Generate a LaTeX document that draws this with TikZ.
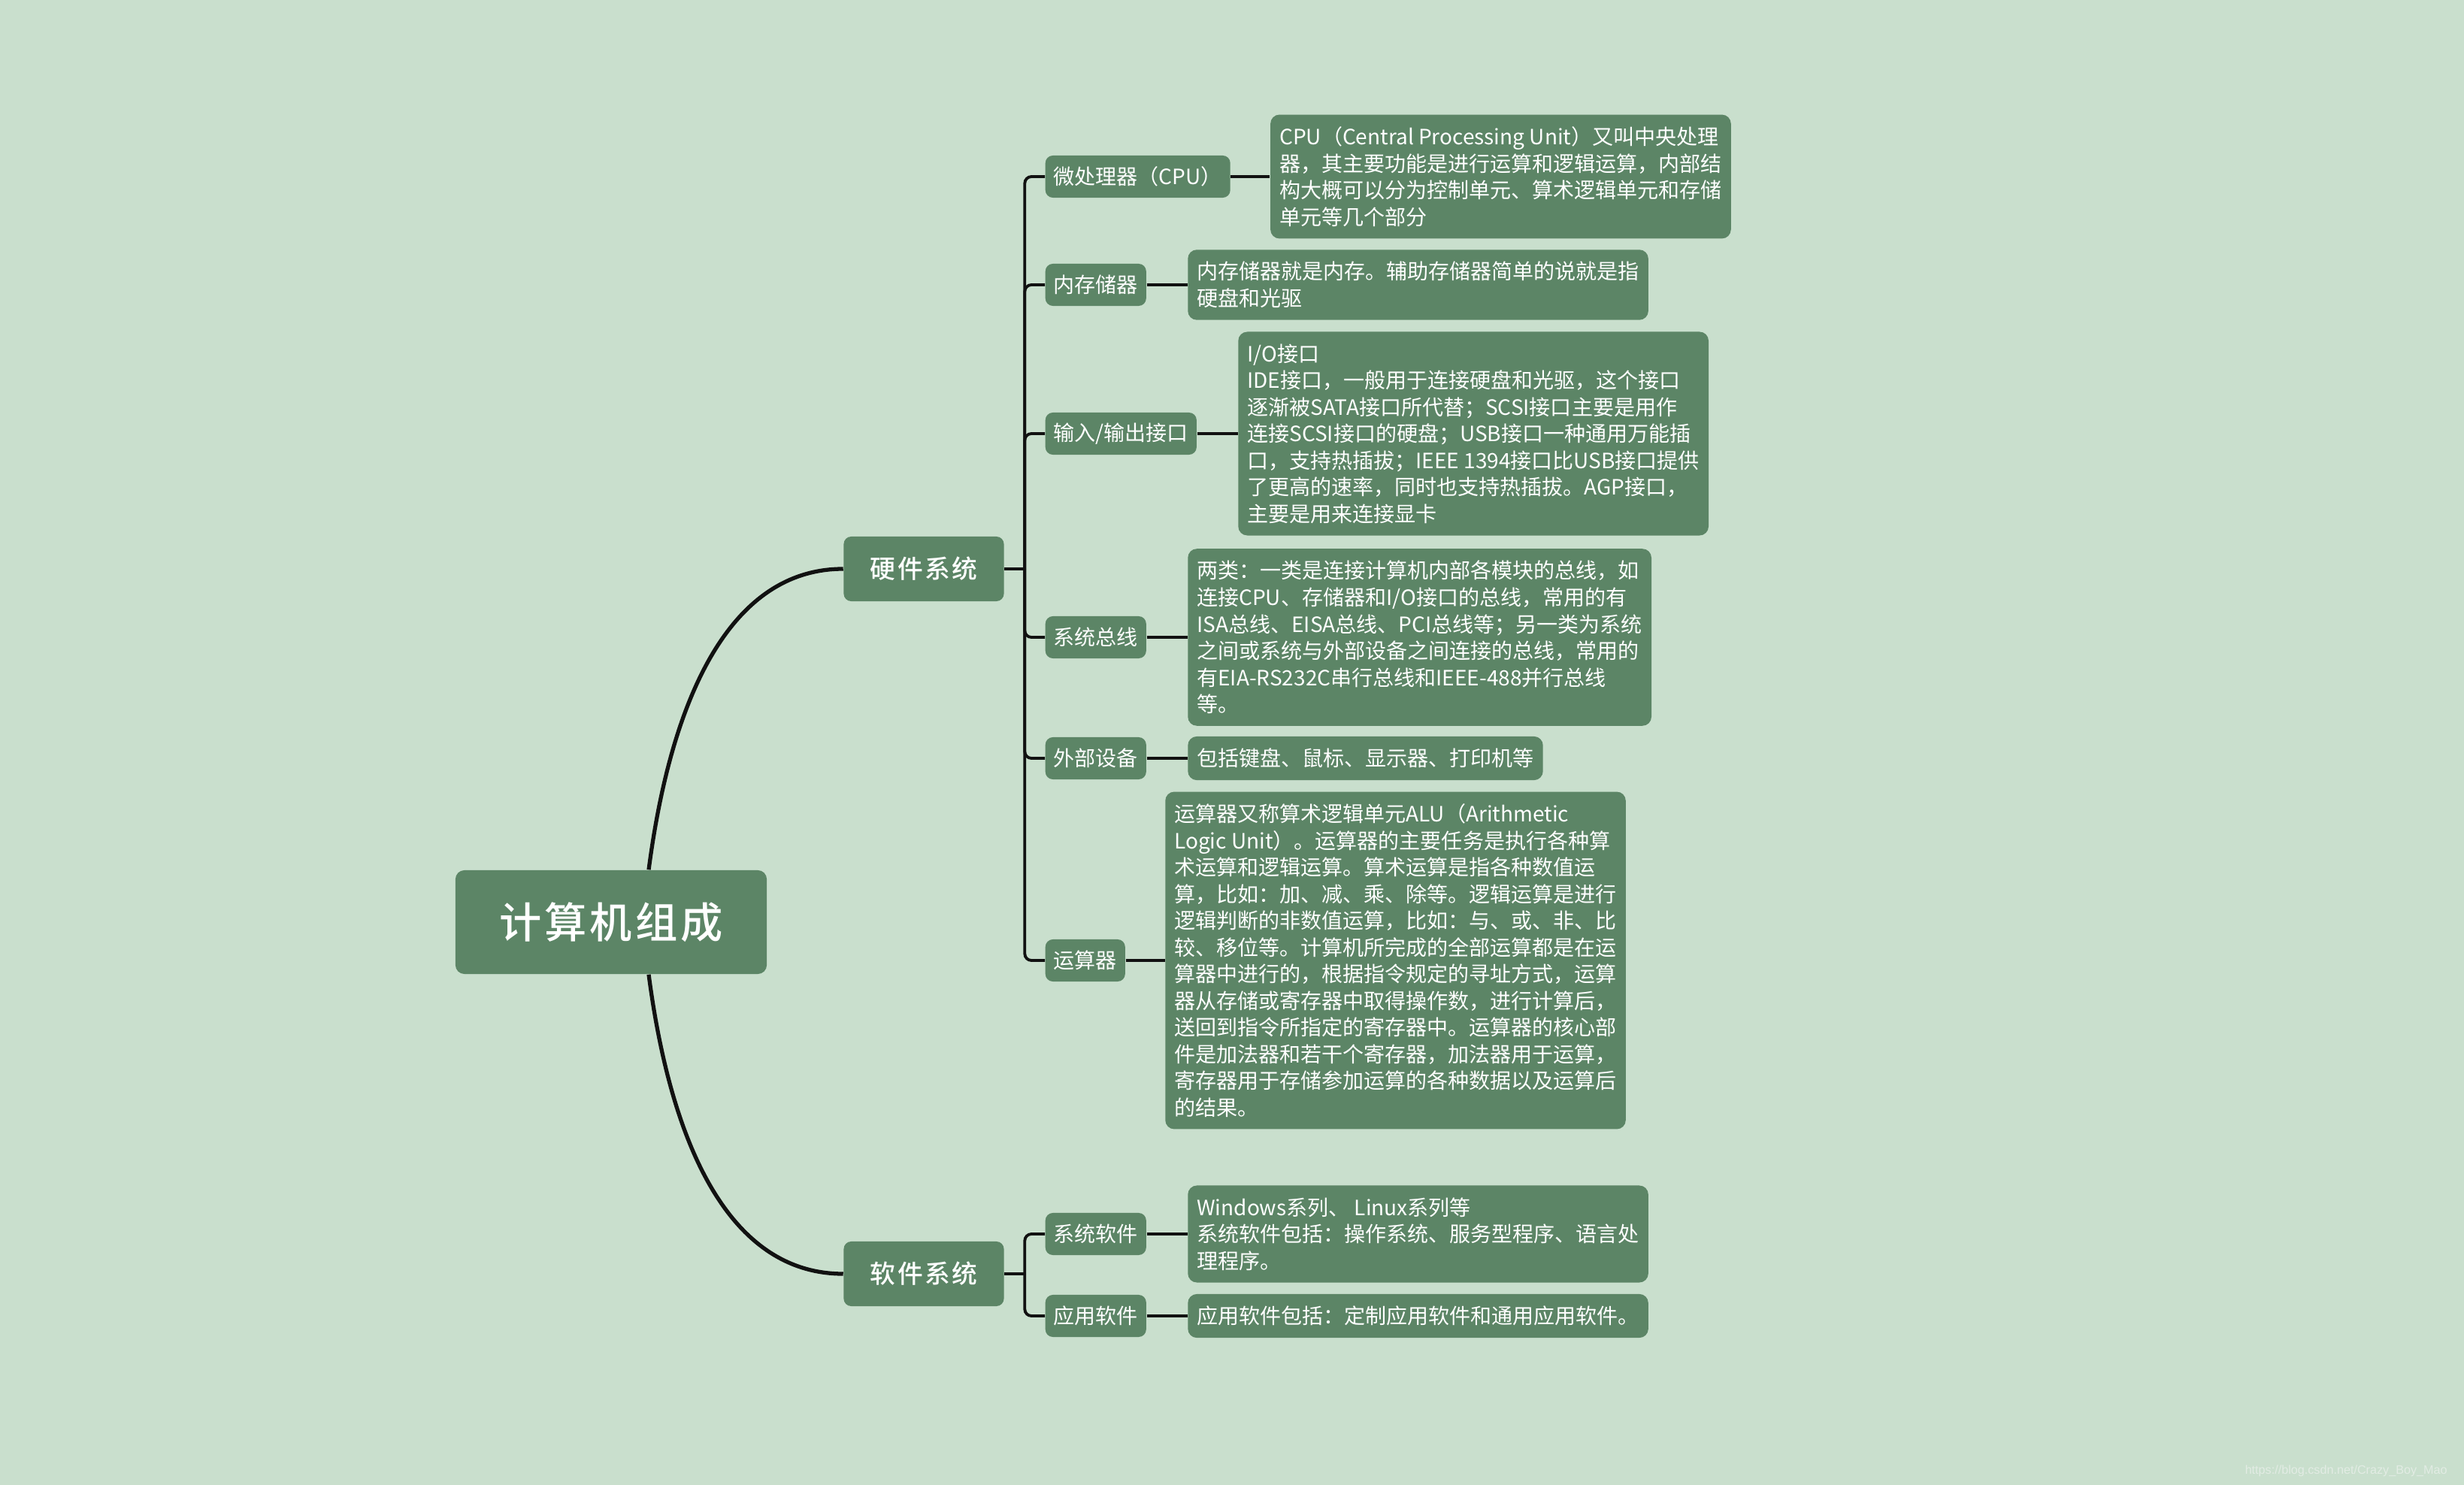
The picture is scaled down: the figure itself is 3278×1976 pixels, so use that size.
\documentclass[tikz,border=0pt]{standalone}
\usepackage{fontspec}
\setmainfont{Noto Sans CJK SC}
\newfontfamily\headfont{Noto Sans CJK SC Medium}[LetterSpace=7]
\newfontfamily\markfont{Liberation Sans}
\usetikzlibrary{positioning}

\tikzset{
  rootbox/.style={fill=boxcolor, rounded corners=0.12cm, text=white,
    font=\headfont\fontsize{16}{19}\selectfont, minimum width=4.14cm, minimum height=1.38cm},
  mainbox/.style={fill=boxcolor, rounded corners=0.1cm, text=white,
    font=\headfont\fontsize{9.6}{12}\selectfont, minimum width=2.13cm, minimum height=0.86cm},
  subbox/.style={fill=boxcolor, rounded corners=0.1cm, text=white, anchor=west,
    font=\fontsize{7.97}{10.1}\selectfont, minimum height=0.56cm, inner xsep=0.11cm, inner ysep=0pt},
  descbox/.style={fill=boxcolor, rounded corners=0.12cm, text=white, align=left,
    font=\fontsize{7.97}{10.1}\selectfont, inner xsep=0.12cm, inner ysep=0.16cm},
  mainline/.style={draw=linecolor, line width=1.5pt},
  branchline/.style={draw=linecolor, line width=1.1pt, rounded corners=0.09cm},
}

\begin{document}
\begin{tikzpicture}[x=0.01cm, y=-0.01cm]
    % Define the colors
    \definecolor{bgcolor}{RGB}{201, 223, 205}
    \definecolor{boxcolor}{RGB}{92, 133, 102}
    \definecolor{linecolor}{RGB}{17, 17, 17}
    \definecolor{markcolor}{RGB}{226, 236, 228}

    % Draw the background
    \fill[bgcolor] (0,0) rectangle (3278,1976);
    \useasboundingbox (0,0) rectangle (3278,1976);

    % Draw the root and the two systems
    \node[rootbox] (root) at (813,1227) {计算机组成};
    \node[mainbox] (hw) at (1229,757) {硬件系统};
    \node[mainbox] (sw) at (1229,1695) {软件系统};

    % Draw the hardware parts
    \node[subbox] (cpu) at (1390,235) {微处理器（CPU）};
    \node[subbox] (mem) at (1390,379) {内存储器};
    \node[subbox] (io) at (1390,577) {输入/输出接口};
    \node[subbox] (bus) at (1390,848) {系统总线};
    \node[subbox] (dev) at (1390,1009) {外部设备};
    \node[subbox] (alu) at (1390,1278) {运算器};

    % Draw the software parts
    \node[subbox] (syssw) at (1390,1642) {系统软件};
    \node[subbox] (appsw) at (1390,1751) {应用软件};

    % Draw the notes
    \node[descbox, right=0.52cm of cpu] (cpunote) {CPU（Central Processing Unit）又叫中央处理\\
      器，其主要功能是进行运算和逻辑运算，内部结\\
      构大概可以分为控制单元、算术逻辑单元和存储\\
      单元等几个部分};
    \node[descbox, right=0.54cm of mem] (memnote) {内存储器就是内存。辅助存储器简单的说就是指\\
      硬盘和光驱};
    \node[descbox, right=0.54cm of io] (ionote) {I/O接口\\
      IDE接口，一般用于连接硬盘和光驱，这个接口\\
      逐渐被SATA接口所代替；SCSI接口主要是用作\\
      连接SCSI接口的硬盘；USB接口一种通用万能插\\
      口，支持热插拔；IEEE 1394接口比USB接口提供\\
      了更高的速率，同时也支持热插拔。AGP接口，\\
      主要是用来连接显卡};
    \node[descbox, right=0.54cm of bus] (busnote) {两类：一类是连接计算机内部各模块的总线，如\\
      连接CPU、存储器和I/O接口的总线，常用的有\\
      ISA总线、EISA总线、PCI总线等；另一类为系统\\
      之间或系统与外部设备之间连接的总线，常用的\\
      有EIA-RS232C串行总线和IEEE-488并行总线\\
      等。};
    \node[descbox, right=0.54cm of dev] (devnote) {包括键盘、鼠标、显示器、打印机等};
    \node[descbox, right=0.52cm of alu] (alunote) {运算器又称算术逻辑单元ALU（Arithmetic\\
      Logic Unit）。运算器的主要任务是执行各种算\\
      术运算和逻辑运算。算术运算是指各种数值运\\
      算，比如：加、减、乘、除等。逻辑运算是进行\\
      逻辑判断的非数值运算，比如：与、或、非、比\\
      较、移位等。计算机所完成的全部运算都是在运\\
      算器中进行的，根据指令规定的寻址方式，运算\\
      器从存储或寄存器中取得操作数，进行计算后，\\
      送回到指令所指定的寄存器中。运算器的核心部\\
      件是加法器和若干个寄存器，加法器用于运算，\\
      寄存器用于存储参加运算的各种数据以及运算后\\
      的结果。};
    \node[descbox, right=0.54cm of syssw] (sysswnote) {Windows系列、 Linux系列等\\
      系统软件包括：操作系统、服务型程序、语言处\\
      理程序。};
    \node[descbox, right=0.54cm of appsw] (appswnote) {应用软件包括：定制应用软件和通用应用软件。};

    % Draw the curves from the root
    \coordinate (rootup) at ([xshift=0.5cm]root.north);
    \coordinate (rootdown) at ([xshift=0.5cm]root.south);
    \draw[mainline] (rootup) .. controls +(30,-230) and +(-150,0) .. (hw.west);
    \draw[mainline] (rootdown) .. controls +(30,230) and +(-150,0) .. (sw.west);

    % Draw the branches
    \draw[branchline] (hw.east) -- ++(27,0) coordinate (hwfork);
    \foreach \part in {cpu, mem, io, bus, dev, alu}
        \draw[branchline] (hwfork) |- (\part.west);
    \draw[branchline] (sw.east) -- ++(27,0) coordinate (swfork);
    \foreach \part in {syssw, appsw}
        \draw[branchline] (swfork) |- (\part.west);

    % Draw the links to the notes
    \foreach \part in {cpu, mem, io, bus, dev, alu, syssw, appsw}
        \draw[branchline] (\part.east) -- (\part note.west);

    % Draw the watermark
    \node[anchor=east, text=markcolor, font=\markfont\fontsize{4.6}{5}\selectfont] (mark) at (3268,1957) {https://blog.csdn.net/Crazy\_Boy\_Mao};
\end{tikzpicture}
\end{document}
